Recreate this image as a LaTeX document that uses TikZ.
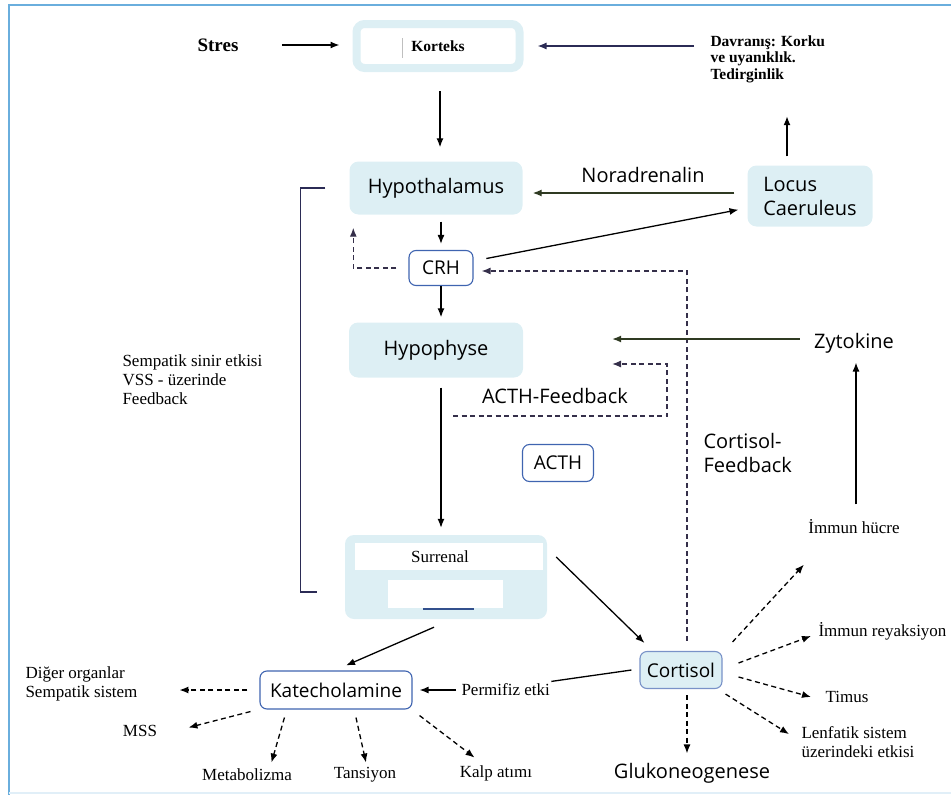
\documentclass[tikz,border=0pt]{standalone}
\usepackage{fontspec}
\setmainfont{Liberation Serif}
\newfontfamily\sansf{Open Sans}
\usetikzlibrary{arrows.meta}
\definecolor{frameblue}{HTML}{6AAEDD}
\definecolor{boxfill}{HTML}{DDEFF4}
\definecolor{boxedge}{HTML}{3F64B0}
\definecolor{navy}{HTML}{2B2B55}
\definecolor{olivec}{HTML}{2F3A22}
\definecolor{dashc}{HTML}{352F4A}
\begin{document}
\begin{tikzpicture}[x=1pt,y=-1pt,
  sbig/.style={font=\sansf\fontsize{20}{24}\selectfont},
  smid/.style={font=\sansf\fontsize{19}{22}\selectfont},
  ser/.style={font=\fontsize{17}{19}\selectfont, align=left},
  serb/.style={font=\bfseries\fontsize{15.5}{16.5}\selectfont, align=left},
  lbox/.style={fill=boxfill, rounded corners=9pt, inner sep=0pt},
  wbox/.style={draw=boxedge, line width=1.1pt, fill=white, rounded corners=7pt, inner sep=0pt},
  arr/.style={-{Latex[length=9pt,width=7pt]}, line width=1.3pt},
  darr/.style={arr, dash pattern=on 5pt off 3.5pt},
  plain/.style={line width=1.3pt}]
\useasboundingbox (0,0) rectangle (951,795);
% frame
\draw[frameblue, line width=2pt] (9,795) -- (9,5) -- (951,5);
\draw[frameblue!20, line width=1.5pt] (9,793) -- (951,793);

% nodes
\node[font=\bfseries\fontsize{19}{22}\selectfont] (stres) at (218,45) {Stres};
\node[draw=boxfill, line width=8pt, fill=white, rounded corners=8pt, minimum width=163pt, minimum height=44pt, inner sep=0pt, serb] (kor) at (438,46) {Korteks};
\draw[gray!50, line width=0.8pt] (402,38) -- (402,58);
\node[serb, anchor=north west] (davr) at (707,32) {Davranış: Korku\\ve uyanıklık.\\Tedirginlik};

\node[lbox, minimum width=173pt, minimum height=53pt, sbig] (hyp) at (436,188) {Hypothalamus};
\node[lbox, minimum width=125pt, minimum height=61pt, sbig, align=left] (loc) at (810,196) {Locus\\Caeruleus};
\node[sbig] (nor) at (643,175) {Noradrenalin};
\node[wbox, minimum width=64pt, minimum height=35pt, smid] (crh) at (441,268) {CRH};
\node[lbox, minimum width=174pt, minimum height=55pt, sbig] (hypo) at (436,350) {Hypophyse};
\node[sbig] (zyt) at (854,343) {Zytokine};
\node[sbig] (afb) at (555,396) {ACTH-Feedback};
\node[wbox, minimum width=71pt, minimum height=37pt, smid] (acth) at (558,463) {ACTH};
\node[sbig, align=left, anchor=north west] (cfb) at (700,430) {Cortisol-\\Feedback};
\node[ser, anchor=north west] (semp) at (119,351) {Sempatik sinir etkisi\\VSS - üzerinde\\Feedback};
\node[ser] (immh) at (854,527) {İmmun hücre};

% Surrenal
\node[lbox, minimum width=202pt, minimum height=84pt] (sur) at (446,577) {};
\fill[white] (355,543) rectangle (543,570);
\fill[white] (388,580) rectangle (503,608);
\draw[boxedge!80!black, line width=1.2pt] (423,609) -- (474,609);
\node[ser] (surt) at (440,557) {Surrenal};

\node[draw=boxedge!70, line width=1.1pt, fill=boxfill, rounded corners=7pt, inner sep=0pt, minimum width=82pt, minimum height=37pt, smid] (cort) at (681,670) {Cortisol};
\node[wbox, minimum width=152pt, minimum height=38pt, smid] (kat) at (336,690) {Katecholamine};
\node[ser, anchor=west] (perm) at (458,690) {Permifiz etki};
\node[ser, anchor=west] (dig) at (22,684) {Diğer organlar\\Sempatik sistem};
\node[ser] (mss) at (140,731) {MSS};
\node[ser] (metab) at (247,775) {Metabolizma};
\node[ser] (tans) at (365,775) {Tansiyon};
\node[ser] (kalp) at (496,773) {Kalp atımı};
\node[sbig] (gluk) at (692,773) {Glukoneogenese};
\node[ser, anchor=west] (immr) at (815,631) {İmmun reyaksiyon};
\node[ser, anchor=west] (tim) at (822,697) {Timus};
\node[ser, anchor=north west] (lenf) at (798,723) {Lenfatik sistem\\üzerindeki etkisi};

% connectors
\draw[arr, shorten <=40pt, shorten >=13pt] (stres.east) -- (stres.east -| kor.west);
\draw[arr, navy, shorten <=13pt, shorten >=14pt] (kor.east -| davr.west) -- (kor.east);
\draw[arr, shorten <=19pt, shorten >=14pt] ([xshift=2pt]kor.south) -- ([xshift=2pt]kor.south |- hyp.north);
\draw[arr, olivec, shorten <=13pt, shorten >=10pt] ([yshift=-5pt]loc.west |- hyp.east) -- ([yshift=-5pt]hyp.east);
\draw[arr, shorten <=9pt, shorten >=30pt] ([xshift=-23pt]loc.north) -- ([xshift=-23pt]loc.north |- davr.south);
\draw[arr, shorten <=7pt, shorten >=6pt] (hyp.south -| crh.north) -- (crh.north);
\draw[darr, dashc, shorten <=12pt, shorten >=13pt] (crh.west) -| ([xshift=4pt]hyp.south west);
\draw[arr, shorten <=13pt, shorten >=9pt] ([yshift=7pt]crh.east) -- ([yshift=-12pt]loc.west);
\draw[darr, dashc, shorten <=10pt, shorten >=8pt] ([xshift=6pt]cort.north) |- ([yshift=-3pt]crh.east);
\draw[darr, shorten <=6pt, shorten >=6pt] ([xshift=6pt]cort.south) -- ([xshift=6pt]cort.south |- gluk.north);
\draw[arr, shorten >=5pt] (crh.south) -- (crh.south |- hypo.north);
\draw[arr, olivec, shorten <=11pt, shorten >=89pt] ([yshift=4pt]zyt.west) -- ([yshift=4pt]zyt.west -| hypo.east);
\coordinate (afbS) at (453,416);
\coordinate (afbC) at (667,364);
\coordinate (afbE) at (612,364);
\draw[darr, dashc] (afbS) -| (afbC) -- (afbE);
\draw[arr, shorten <=10pt, shorten >=7pt] ([xshift=5pt]hypo.south) -- ([xshift=5pt]hypo.south |- sur.north);
\draw[arr, shorten <=12pt, shorten >=6pt] ([xshift=2pt]immh.north) -- ([xshift=2pt]immh.north |- zyt.south);
\draw[navy, plain] ([xshift=-24pt]hyp.west) -- ++(-25,0) -- ++(0,404) -- ++(17,0);
\draw[arr] ([shift={(-12pt,-8pt)}]sur.south) -- ([xshift=10pt,yshift=5pt]kat.north);
\draw[arr] ([shift={(9pt,20pt)}]sur.east) -- ([shift={(5pt,8pt)}]cort.north west);
\draw[plain] ([xshift=-8pt]cort.west) -- ([shift={(-2pt,-1pt)}]perm.north east);
\draw[arr, shorten <=2pt, shorten >=7pt] (perm.west) -- (perm.west -| kat.east);
% katecholamine effects
\draw[darr, shorten <=12pt] (kat.west) -- ++(-80,0);
\draw[darr] ([shift={(-9pt,-2pt)}]kat.south west) -- ++(-62,16);
\draw[darr] ([shift={(25pt,-8pt)}]kat.south west) -- ++(-13,45);
\draw[darr] ([shift={(20pt,-8pt)}]kat.south) -- ++(10,45);
\draw[darr] ([shift={(7pt,-6pt)}]kat.south east) -- ++(55,42);
% cortisol effects
\draw[darr] ([shift={(10pt,9pt)}]cort.north east) -- ([shift={(-1pt,-27pt)}]immh.south west);
\draw[darr] ([shift={(16pt,7pt)}]cort.east) -- ([shift={(-4pt,-5pt)}]immr.west);
\draw[darr] ([shift={(16pt,-7pt)}]cort.east) -- ([xshift=-11pt]tim.west);
\draw[darr] ([shift={(3pt,-5pt)}]cort.south east) -- ([shift={(-9pt,8pt)}]lenf.west);
\end{tikzpicture}
\end{document}
